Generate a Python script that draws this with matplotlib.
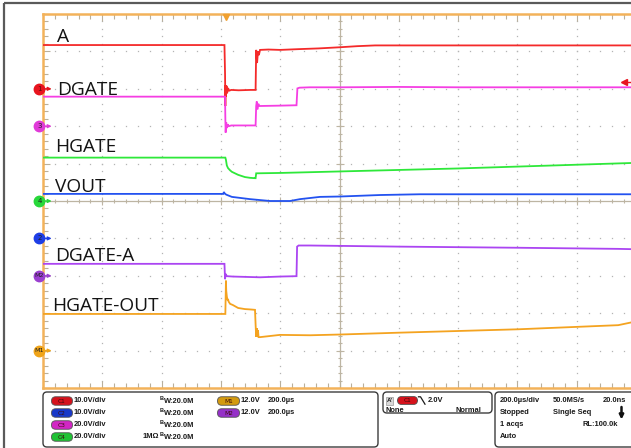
import matplotlib
matplotlib.use("Agg")
import matplotlib.pyplot as plt
import numpy as np
from matplotlib.patches import FancyBboxPatch, Rectangle
from matplotlib.transforms import blended_transform_factory

# ---------------- data (time in us, amplitude in screen divisions) ----------------
t_A = [-600, 12, 14, 15, 16, 17, 19, 21, 24, 28, 35, 60, 100, 117, 119, 122, 125, 128, 132, 160, 200, 260, 330, 400, 460, 520, 1400]
v_A = [4.17, 4.17, 3.40, 2.54, 3.10, 2.80, 3.08, 2.88, 3.02, 2.95, 2.97, 2.96, 2.97, 2.97, 4.04, 3.69, 4.00, 3.90, 4.04, 4.05, 4.04, 4.06, 4.08, 4.11, 4.14, 4.16, 4.16]

t_DGATE = [-600, 14, 15, 16, 18, 20, 23, 27, 35, 80, 117, 119, 121, 123, 126, 130, 200, 255, 258, 265, 300, 400, 600, 800, 1000, 1400]
v_DGATE = [2.79, 2.79, 2.20, 1.83, 2.10, 1.95, 2.05, 2.00, 2.02, 2.02, 2.02, 2.54, 2.66, 2.45, 2.60, 2.54, 2.55, 2.56, 3.01, 3.03, 3.04, 3.04, 3.05, 3.04, 3.04, 3.04]

t_HGATE = [-600, 15, 17, 20, 24, 31, 37, 58, 81, 98, 115, 117, 119, 200, 400, 600, 800, 1000, 1200, 1400]
v_HGATE = [1.16, 1.16, 1.10, 0.95, 0.88, 0.82, 0.78, 0.70, 0.64, 0.62, 0.61, 0.61, 0.74, 0.75, 0.79, 0.83, 0.87, 0.92, 0.97, 1.02]

t_VOUT = [-600, 8, 10, 13, 18, 37, 98, 166, 233, 267, 334, 402, 537, 671, 1400]
v_VOUT = [0.19, 0.19, 0.24, 0.20, 0.17, 0.11, 0.05, 0.00, 0.00, 0.05, 0.11, 0.12, 0.16, 0.18, 0.18]

t_DGATE_A = [-600, 12, 14, 16, 20, 40, 132, 200, 255, 257, 262, 300, 604, 1003, 1340, 1400]
v_DGATE_A = [-1.68, -1.68, -2.09, -1.95, -2.01, -2.02, -2.04, -2.02, -2.01, -1.22, -1.19, -1.19, -1.22, -1.25, -1.28, -1.29]

t_HGATE_OUT = [-600, 15, 16, 17, 18, 20, 22, 24, 26, 31, 40, 58, 81, 100, 115, 117, 119, 121, 123, 125, 127, 132, 199, 301, 402, 604, 1003, 1340, 1400]
v_HGATE_OUT = [-3.02, -3.02, -2.60, -2.13, -2.40, -2.55, -2.65, -2.62, -2.69, -2.75, -2.78, -2.86, -2.89, -2.90, -2.91, -3.30, -3.63, -3.40, -3.62, -3.45, -3.64, -3.64, -3.58, -3.59, -3.57, -3.52, -3.43, -3.32, -3.22]

trace_names = ["A", "DGATE", "HGATE", "VOUT", "DGATE-A", "HGATE-OUT"]
trace_colors = ["#f42a2a", "#f53ee3", "#2ee83a", "#2352f0", "#ab45f2", "#f4a320"]
label_pos = [(-552, 4.25), (-552, 2.83), (-558, 1.31), (-558, 0.24), (-558, -1.60), (-568, -2.94)]

# channel markers on the left edge
marker_names = ["1", "3", "4", "2", "M2", "M1"]
marker_levels = [3, 2, 0, -1, -2, -4]
marker_colors = ["#e8141e", "#e03ad8", "#28d83a", "#1e3ee6", "#9a3fd0", "#f0a418"]
trigger_time = 17
trigger_level = 3.18

# status panel
ch_labels = ["C1", "C2", "C3", "C4"]
ch_colors = ["#d5121c", "#1838c8", "#d226c4", "#1fc234"]
ch_scales = ["10.0V/div", "10.0V/div", "20.0V/div", "20.0V/div"]
ch_bw = ["20.0M", "20.0M", "20.0M", "20.0M"]
math_labels = ["M1", "M2"]
math_colors = ["#d39a10", "#9530c8"]
math_scales = ["12.0V", "12.0V"]
math_times = ["200.0\u00b5s", "200.0\u00b5s"]

# ---------------- figure ----------------
W, H = 631, 448
fig = plt.figure(figsize=(W / 100, H / 100), dpi=100)
bg = fig.add_axes([0, 0, 1, 1])
bg.set_xlim(0, W)
bg.set_ylim(H, 0)
bg.axis("off")

# outer frame
bg.plot([4, 4], [3, H], color="#5a5a5a", lw=1.6, solid_capstyle="butt")
bg.plot([4, W], [3, 3], color="#5a5a5a", lw=1.6, solid_capstyle="butt")

# scope screen axes
L, R, T, B = 43, 636, 14, 388
ax = fig.add_axes([L / W, (H - B) / H, (R - L) / W, (B - T) / H])
ax.set_xlim(-600, 1400)
ax.set_ylim(-5, 5)
ax.set_facecolor("white")
orange = "#f3b25a"
for s in ["left", "top", "bottom"]:
    ax.spines[s].set_color(orange)
    ax.spines[s].set_linewidth(1.8)
ax.spines["right"].set_visible(False)
ax.set_xticks(np.arange(-600, 1401, 200))
ax.set_xticks(np.arange(-600, 1401, 40), minor=True)
ax.set_yticks(np.arange(-5, 5.01, 1))
ax.set_yticks(np.arange(-5, 5.01, 0.2), minor=True)
ax.tick_params(which="both", direction="in", top=True, bottom=True, left=True, right=False,
               labelbottom=False, labelleft=False, color="#b9b09c", width=0.8)
ax.tick_params(which="major", length=5)
ax.tick_params(which="minor", length=3.5)

# dotted grid
gx = np.arange(-400, 1401, 200)
gy = np.arange(-4, 5, 1)
mx = np.arange(-600, 1401, 40)
my = np.arange(-5, 5.01, 0.2)
for x in gx:
    if x == 400:
        continue
    ax.plot(np.full_like(my, x), my, ls="none", marker="s", ms=0.9, mew=0, color="#b4b4b4", zorder=1)
for y in gy:
    if y == 0:
        continue
    ax.plot(mx, np.full_like(mx, y, dtype=float), ls="none", marker="s", ms=0.9, mew=0, color="#b4b4b4", zorder=1)

# center crosshair with ticks
cc = "#bdb5a3"
ax.axhline(0, color=cc, lw=0.9, zorder=1)
ax.axvline(400, color=cc, lw=0.9, zorder=1)
ax.plot(mx, np.zeros_like(mx, dtype=float), ls="none", marker="|", ms=3.5, mew=0.8, color=cc, zorder=1)
ax.plot(gx, np.zeros_like(gx, dtype=float), ls="none", marker="|", ms=6, mew=0.8, color=cc, zorder=1)
ax.plot(np.full_like(my, 400), my, ls="none", marker="_", ms=3.5, mew=0.8, color=cc, zorder=1)
ax.plot(np.full_like(gy, 400, dtype=float), gy, ls="none", marker="_", ms=6, mew=0.8, color=cc, zorder=1)

# traces
traces = [(t_A, v_A), (t_DGATE, v_DGATE), (t_HGATE, v_HGATE), (t_VOUT, v_VOUT),
          (t_DGATE_A, v_DGATE_A), (t_HGATE_OUT, v_HGATE_OUT)]
for (t, v), c in zip(traces, trace_colors):
    ax.plot(t, v, color=c, lw=1.3, zorder=3, solid_joinstyle="miter")

for name, (x, y) in zip(trace_names, label_pos):
    ax.text(x, y, name, fontsize=13.8, family="Open Sans", color="#141414", ha="left", va="baseline", zorder=4)

# channel markers
trans = blended_transform_factory(ax.transAxes, ax.transData)
for name, lev, c in zip(marker_names, marker_levels, marker_colors):
    ax.annotate("", xy=(0.0145, lev), xytext=(0.0, lev), xycoords=trans, textcoords=trans,
                arrowprops=dict(arrowstyle="-|>", color=c, lw=1.0, mutation_scale=5,
                                shrinkA=0, shrinkB=0), annotation_clip=False, zorder=5)
    ax.plot(-0.006, lev, marker="o", ms=7.5, color=c, mec=c, transform=trans, clip_on=False, zorder=6)
    ax.text(-0.006, lev, name, transform=trans, fontsize=4.6 if len(name) > 1 else 5,
            color="#5a1010" if name == "1" else "#222222", ha="center", va="center",
            family="DejaVu Sans", zorder=7, clip_on=False)

# trigger position & level markers
ax.plot(trigger_time, 4.93, marker="v", ms=5, color="#f0a030", mec="#f0a030", clip_on=False, zorder=6)
ax.plot([1360, 1400], [trigger_level, trigger_level], color="#e8141e", lw=1.0, zorder=6)
ax.plot(1358, trigger_level, marker="<", ms=4, color="#e8141e", zorder=6)

# ---------------- status panel ----------------
edge = "#3c3c3c"
def box(x0, y0, x1, y1):
    bg.add_patch(FancyBboxPatch((x0, y0), x1 - x0, y1 - y0,
                                boxstyle="round,pad=0,rounding_size=4",
                                fc="white", ec=edge, lw=1.0))
box(43, 392, 378, 447)
box(383, 392, 492, 413)
box(495, 392, 640, 447)

def pill(cx, cy, label, color, w=21, h=8.5):
    bg.add_patch(FancyBboxPatch((cx - w / 2, cy - h / 2), w, h,
                                boxstyle="round,pad=0,rounding_size=4.2",
                                fc=color, ec="#555555", lw=0.6))
    bg.text(cx, cy + 0.3, label, fontsize=4.2, color="#3a0a0a", ha="center", va="center",
            family="DejaVu Sans")

tf = dict(fontsize=5.4, fontweight="bold", family="Liberation Sans", color="#1a1a1a", va="center")
rows = [401, 413, 425, 437]
for i in range(4):
    y = rows[i]
    pill(62, y, ch_labels[i], ch_colors[i])
    bg.text(74, y, ch_scales[i], ha="left", **tf)
    bg.text(160, y - 2, "B", ha="left", **{**tf, "fontsize": 4.0})
    bg.text(163.5, y + 0.8, "W:" + ch_bw[i], ha="left", **tf)
bg.text(143, rows[3], "1M\u03a9", ha="left", **tf)
for i in range(2):
    y = rows[i]
    pill(228.5, y, math_labels[i], math_colors[i], w=22)
    bg.text(241, y, math_scales[i], ha="left", **tf)
    bg.text(268, y, math_times[i], ha="left", **tf)

# trigger box
bg.add_patch(Rectangle((386, 397), 7, 8, fc="#d9d9d9", ec="#999999", lw=0.5))
bg.text(389.5, 401, "A'", ha="center", **{**tf, "fontsize": 4.5})
pill(407.5, 400.5, "C1", ch_colors[0], w=20, h=8)
bg.plot([418.5, 420.5, 425], [396.8, 396.8, 404.2], color="#1a1a1a", lw=0.9)
bg.text(428, 400.5, "2.0V", ha="left", **tf)
bg.text(386, 410.5, "None", ha="left", **tf)
bg.text(481, 410.5, "Normal", ha="right", **tf)

# acquisition box
bg.text(500, 401, "200.0\u00b5s/div", ha="left", **tf)
bg.text(553, 401, "50.0MS/s", ha="left", **tf)
bg.text(626, 401, "20.0ns", ha="right", **tf)
bg.text(500, 413, "Stopped", ha="left", **tf)
bg.text(553, 413, "Single Seq", ha="left", **tf)
bg.annotate("", xy=(621.5, 419.5), xytext=(621.5, 407), xycoords="data",
            arrowprops=dict(arrowstyle="-|>", color="#111111", lw=1.8, mutation_scale=6,
                            shrinkA=0, shrinkB=0))
bg.text(500, 425, "1 acqs", ha="left", **tf)
bg.text(618, 425, "RL:100.0k", ha="right", **tf)
bg.text(500, 437, "Auto", ha="left", **tf)

fig.savefig("out.png", dpi=100, facecolor="white")
